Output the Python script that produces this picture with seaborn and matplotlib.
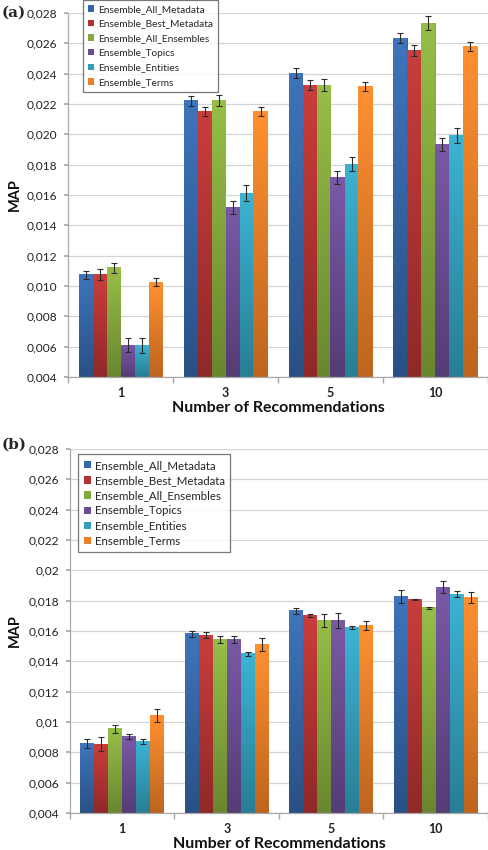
import numpy as np
import pandas as pd
import matplotlib
matplotlib.use("Agg")
import matplotlib.pyplot as plt
from matplotlib.ticker import FixedLocator, FixedFormatter
from matplotlib.colors import to_rgb
import seaborn as sns

# ---------------- data ----------------
categories = ["1", "3", "5", "10"]
series = ["Ensemble_All_Metadata", "Ensemble_Best_Metadata", "Ensemble_All_Ensembles",
          "Ensemble_Topics", "Ensemble_Entities", "Ensemble_Terms"]
colors = ["#3465A6", "#B33332", "#84A83C", "#6A4C92", "#329EBB", "#EC7E27"]

# panel (a)
a_all_metadata  = [0.01075, 0.02222, 0.02404, 0.02633]
a_best_metadata = [0.01075, 0.02152, 0.02325, 0.02551]
a_all_ensembles = [0.01120, 0.02222, 0.02325, 0.02734]
a_topics        = [0.00610, 0.01517, 0.01714, 0.01932]
a_entities      = [0.00610, 0.01613, 0.01804, 0.01993]
a_terms         = [0.01026, 0.02152, 0.02316, 0.02580]
a_err_all_metadata  = [0.00027, 0.00033, 0.00033, 0.00034]
a_err_best_metadata = [0.00035, 0.00030, 0.00033, 0.00035]
a_err_all_ensembles = [0.00033, 0.00036, 0.00038, 0.00044]
a_err_topics        = [0.00046, 0.00043, 0.00043, 0.00044]
a_err_entities      = [0.00050, 0.00050, 0.00048, 0.00048]
a_err_terms         = [0.00028, 0.00030, 0.00030, 0.00030]

# panel (b)
b_all_metadata  = [0.00860, 0.01581, 0.01733, 0.01827]
b_best_metadata = [0.00854, 0.01573, 0.01704, 0.01807]
b_all_ensembles = [0.00954, 0.01544, 0.01671, 0.01752]
b_topics        = [0.00906, 0.01544, 0.01671, 0.01890]
b_entities      = [0.00871, 0.01450, 0.01625, 0.01842]
b_terms         = [0.01042, 0.01513, 0.01634, 0.01820]
b_err_all_metadata  = [0.00030, 0.00020, 0.00020, 0.00044]
b_err_best_metadata = [0.00047, 0.00018, 0.00010, 0.00005]
b_err_all_ensembles = [0.00024, 0.00024, 0.00042, 0.00007]
b_err_topics        = [0.00015, 0.00024, 0.00050, 0.00040]
b_err_entities      = [0.00015, 0.00014, 0.00010, 0.00020]
b_err_terms         = [0.00043, 0.00042, 0.00029, 0.00035]

yticks = [0.004, 0.006, 0.008, 0.010, 0.012, 0.014, 0.016, 0.018, 0.020, 0.022, 0.024, 0.026, 0.028]
ytick_labels_a = ["0,004", "0,006", "0,008", "0,010", "0,012", "0,014", "0,016",
                  "0,018", "0,020", "0,022", "0,024", "0,026", "0,028"]
ytick_labels_b = ["0,004", "0,006", "0,008", "0,01", "0,012", "0,014", "0,016",
                  "0,018", "0,02", "0,022", "0,024", "0,026", "0,028"]

xlabel = "Number of Recommendations"
ylabel = "MAP"


def build_df(vals, errs):
    rows = []
    for s, v, e in zip(series, vals, errs):
        for c, vv, ee in zip(categories, v, e):
            rows.append({"k": c, "Ensemble": s, "MAP": vv, "err": ee})
    return pd.DataFrame(rows)


df_a = build_df([a_all_metadata, a_best_metadata, a_all_ensembles, a_topics, a_entities, a_terms],
                [a_err_all_metadata, a_err_best_metadata, a_err_all_ensembles, a_err_topics,
                 a_err_entities, a_err_terms])
df_b = build_df([b_all_metadata, b_best_metadata, b_all_ensembles, b_topics, b_entities, b_terms],
                [b_err_all_metadata, b_err_best_metadata, b_err_all_ensembles, b_err_topics,
                 b_err_entities, b_err_terms])

sns.set_theme(style="white")
plt.rcParams["font.family"] = ["Lato", "DejaVu Sans"]

fig = plt.figure(figsize=(4.89, 8.50), dpi=100)
ax_a = fig.add_axes([68 / 489, 1 - 377 / 850, 420 / 489, 364 / 850])
ax_b = fig.add_axes([70 / 489, 1 - 813 / 850, 418 / 489, 364 / 850])


def shade_bars(ax, bars):
    """Excel-like vertical gradient inside each bar (visible part only)."""
    ymin = ax.get_ylim()[0]
    for p in bars:
        base = np.array(to_rgb(p.get_facecolor()))
        top = np.clip(base * 1.10 + 0.02, 0, 1)
        bot = np.clip(base * 0.80, 0, 1)
        t = np.linspace(0, 1, 64)[:, None]
        grad = (top[None, :] * (1 - t) + bot[None, :] * t)[:, None, :]
        x0 = p.get_x()
        x1 = x0 + p.get_width()
        y1 = p.get_y() + p.get_height()
        y0 = max(p.get_y(), ymin)
        ax.imshow(grad, extent=(x0, x1, y0, y1), origin="upper",
                  aspect="auto", interpolation="bilinear", zorder=2.1)


def draw(ax, df, ylabels, leg_anchor, leg_fs, leg_ls, tag, tag_y, ylab_x):
    sns.barplot(data=df, x="k", y="MAP", hue="Ensemble", order=categories,
                hue_order=series, palette=colors, width=0.8, errorbar=None,
                saturation=1, ax=ax, zorder=2, linewidth=0)
    bars = [p for p in ax.patches if p.get_height() > 0]
    errs = []
    for s in series:
        for c in categories:
            errs.append(df[(df.Ensemble == s) & (df.k == c)]["err"].iloc[0])
    xs = [p.get_x() + p.get_width() / 2 for p in bars]
    ys = [p.get_height() + p.get_y() for p in bars]

    ax.set_ylim(0.004, 0.028)
    ax.set_xlim(-0.5, 3.5)
    shade_bars(ax, bars)
    ax.set_ylim(0.004, 0.028)
    ax.set_xlim(-0.5, 3.5)
    ax.set_aspect("auto")
    ax.errorbar(xs, ys, yerr=errs[:len(xs)], fmt="none", ecolor="#2b2b2b",
                elinewidth=0.8, capsize=2.2, capthick=0.8, zorder=3)

    ax.yaxis.set_major_locator(FixedLocator(yticks))
    ax.yaxis.set_major_formatter(FixedFormatter(ylabels))
    ax.grid(axis="y", color="#d4d4d4", linewidth=0.9, zorder=0)
    ax.set_axisbelow(True)
    for sp in ["top", "right"]:
        ax.spines[sp].set_visible(False)
    for sp in ["left", "bottom"]:
        ax.spines[sp].set_color("#a8a8a8")
        ax.spines[sp].set_linewidth(0.9)
    ax.tick_params(axis="y", length=3, color="#a8a8a8", labelsize=8.6,
                   labelcolor="#222222", pad=5, left=True)
    ax.tick_params(axis="x", which="major", length=0, labelsize=9,
                   labelcolor="#222222", pad=7)
    ax.set_xticks([-0.5, 0.5, 1.5, 2.5, 3.5], minor=True)
    ax.tick_params(axis="x", which="minor", length=4, color="#a8a8a8",
                   direction="out", bottom=True)
    for t in ax.get_xticklabels():
        t.set_fontweight("bold")
    ax.set_xlabel(xlabel, fontsize=11.5, fontweight="bold", color="#111111", va="center")
    ax.xaxis.set_label_coords(0.5, -0.085)
    ax.set_ylabel(ylabel, fontsize=10.5, fontweight="bold", color="#111111", va="center")
    ax.yaxis.set_label_coords(ylab_x, 0.5)

    h, l = ax.get_legend_handles_labels()
    ax.get_legend().remove()
    leg = ax.legend(h, l, loc="upper left", bbox_to_anchor=leg_anchor, fontsize=leg_fs,
                    frameon=True, fancybox=False, shadow=False, handlelength=0.6,
                    handleheight=0.6, handletextpad=0.35, labelspacing=leg_ls,
                    borderpad=0.5, borderaxespad=0)
    leg.get_frame().set_edgecolor("#555555")
    leg.get_frame().set_linewidth(0.9)
    leg.set_zorder(5)
    fig.text(0.004, tag_y, tag, fontsize=11, fontweight="bold",
             family=["DejaVu Serif"], va="center", ha="left")


draw(ax_a, df_a, ytick_labels_a, (0.036, 1.036), 7.25, 0.56, "(a)", 1 - 13 / 850, -0.126)
draw(ax_b, df_b, ytick_labels_b, (0.019, 0.986), 8.25, 0.36, "(b)", 1 - 445 / 850, -0.131)

fig.savefig("out.png", dpi=100)
